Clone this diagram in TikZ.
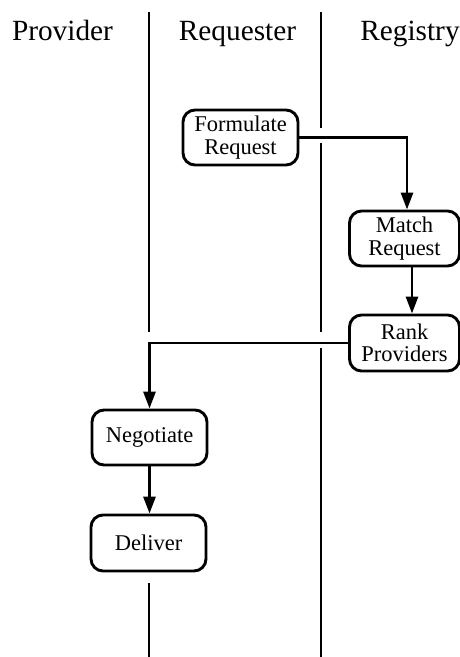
\documentclass[tikz,border=0pt]{standalone}
\usepackage{fontspec}
\setmainfont{Liberation Serif}
\usetikzlibrary{arrows.meta,positioning}
\begin{document}
\begin{tikzpicture}[x=1pt,y=-1pt,
  lane/.style={line width=2.8pt},
  actbox/.style={draw,line width=2.9pt,rounded corners=12pt,fill=white,
    align=center,inner sep=0pt,font=\fontsize{22.5}{22.5}\selectfont},
  flow/.style={line width=2.8pt,-{Triangle[length=17pt,width=12pt]}},
  header/.style={anchor=base,font=\fontsize{29.3}{30}\selectfont}]
\useasboundingbox (0,0) rectangle (460,657);

% swimlane titles
\node[header] (hprov) at (62.5,40) {Provider};
\node[header] (hreq)  at (237.5,40) {Requester};
\node[header] (hreg)  at (410,40) {Registry};

% swimlane separators, broken where the flows cross them
\draw[lane] (149,12) -- (149,332);
\draw[lane] (149,583) -- (149,657);
\draw[lane] (321,12) -- (321,128);
\draw[lane] (321,143) -- (321,332);
\draw[lane] (321,348) -- (321,657);

% activities
\node[actbox,minimum width=115pt,minimum height=55pt] (form) at (240.5,137.5) {Formulate\\Request};
\node[actbox,minimum width=110pt,minimum height=55pt] (match) at (404.5,238.5) {Match\\Request};
\node[actbox,minimum width=110pt,minimum height=56pt] (rank) at (404.5,343) {Rank\\Providers};
\node[actbox,minimum width=115pt,minimum height=55pt] (nego) at (149.5,437.5) {Negotiate};
\node[actbox,minimum width=115pt,minimum height=56pt] (deliv) at (148.5,543) {Deliver};

% control flow
\draw[flow] (form.east) -| ([xshift=2.5pt]match.north);
\draw[flow] ([xshift=7.5pt]match.south) -- ([xshift=7.5pt]rank.north);
\draw[flow] (rank.west) -| (nego.north);
\draw[flow] (nego.south) -- (nego.south |- deliv.north);
\end{tikzpicture}
\end{document}
